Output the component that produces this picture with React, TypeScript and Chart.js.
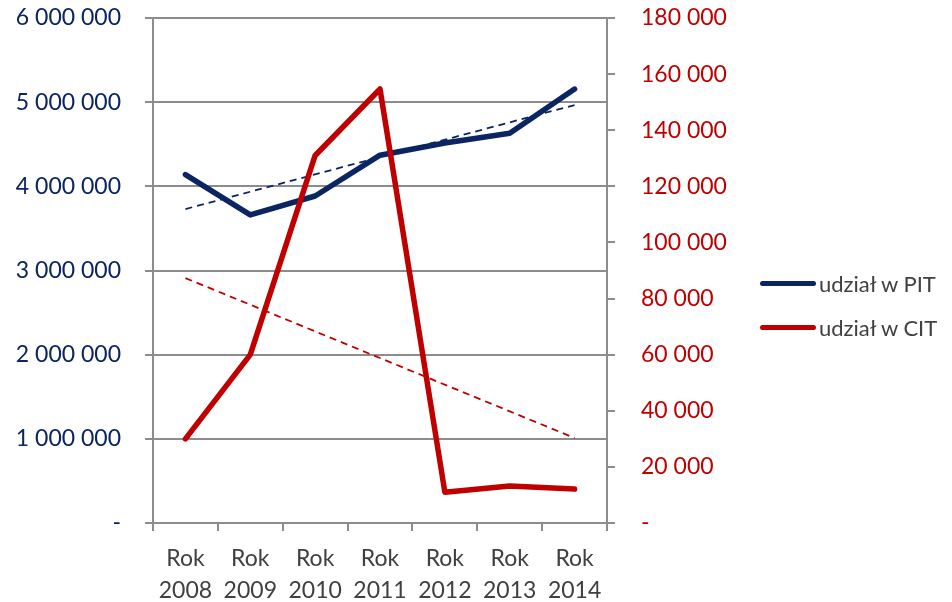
import React, { useEffect, useRef } from "react";
import { Chart, registerables } from "chart.js";

Chart.register(...registerables);

const categories: string[][] = [
  ["Rok", "2008"], ["Rok", "2009"], ["Rok", "2010"], ["Rok", "2011"],
  ["Rok", "2012"], ["Rok", "2013"], ["Rok", "2014"],
];
const pitValues = [4140000, 3660000, 3885000, 4370000, 4515000, 4630000, 5156000];
const citValues = [30000, 60000, 131000, 154700, 11000, 13200, 12100];
const pitTrend = [3730000, null, null, null, null, null, 4966000];
const citTrend = [87300, null, null, null, null, null, 30300];
const seriesLabels = ["udział w PIT", "udział w CIT"];

const NAVY = "#0A2562";
const RED = "#C00000";
const GRID = "#8C8C8C";
const FONT = "Lato, 'Open Sans', sans-serif";

const fmt = (v: number) =>
  v === 0 ? "-" : String(Math.round(v)).replace(/\B(?=(\d{3})+(?!\d))/g, " ");

export default function App() {
  const ref = useRef<HTMLCanvasElement>(null);
  useEffect(() => {
    if (!ref.current) return;
    const chart = new Chart(ref.current, {
      type: "line",
      data: {
        labels: categories,
        datasets: [
          {
            label: seriesLabels[0], data: pitValues, borderColor: NAVY, borderWidth: 5.5,
            pointRadius: 0, yAxisID: "y", order: 2, borderCapStyle: "round", borderJoinStyle: "round",
          },
          {
            label: seriesLabels[1], data: citValues, borderColor: RED, borderWidth: 5.5,
            pointRadius: 0, yAxisID: "y1", order: 1, borderCapStyle: "round", borderJoinStyle: "round",
          },
          {
            label: "trend PIT", data: pitTrend as any, borderColor: NAVY, borderWidth: 1.8,
            borderDash: [7, 5], pointRadius: 0, yAxisID: "y", spanGaps: true, order: 3,
          },
          {
            label: "trend CIT", data: citTrend as any, borderColor: RED, borderWidth: 1.8,
            borderDash: [7, 5], pointRadius: 0, yAxisID: "y1", spanGaps: true, order: 3,
          },
        ],
      },
      options: {
        animation: false,
        responsive: false,
        maintainAspectRatio: false,
        layout: { padding: { top: 18, right: 0, left: 0, bottom: 0 } },
        plugins: { legend: { display: false }, tooltip: { enabled: false } },
        scales: {
          x: {
            offset: true,
            grid: { offset: true, drawOnChartArea: false, color: GRID, lineWidth: 2, tickLength: 8, tickColor: GRID },
            border: { color: GRID, width: 2 },
            ticks: { color: "#404040", font: { family: FONT, size: 23, lineHeight: 1.4 }, padding: 11, maxRotation: 0 },
            afterFit: (s: any) => { s.height = 79; s.paddingLeft = 0; s.paddingRight = 0; },
          },
          y: {
            position: "left", min: 0, max: 6000000,
            grid: { color: GRID, lineWidth: 2, tickLength: 8, tickColor: GRID },
            border: { color: GRID, width: 2 },
            ticks: { stepSize: 1000000, color: NAVY, font: { family: FONT, size: 23 }, padding: 24, callback: (v: any) => fmt(Number(v)) },
            afterFit: (s: any) => { s.width = 153; s.paddingTop = 0; s.paddingBottom = 0; },
          },
          y1: {
            position: "right", min: 0, max: 180000,
            grid: { drawOnChartArea: false, color: GRID, lineWidth: 2, tickLength: 8, tickColor: GRID },
            border: { color: GRID, width: 2 },
            ticks: { stepSize: 20000, color: RED, font: { family: FONT, size: 23 }, padding: 26, callback: (v: any) => fmt(Number(v)) },
            afterFit: (s: any) => { s.width = 952 - 607; s.paddingTop = 0; s.paddingBottom = 0; },
          },
        },
      },
    });
    return () => chart.destroy();
  }, []);

  const legendItem = (label: string, color: string, top: number) => (
    <div style={{ position: "absolute", left: 760, top: top - 15, height: 30, display: "flex", alignItems: "center" }}>
      <div style={{ width: 56, height: 5, borderRadius: 3, background: color, marginRight: 3 }} />
      <span style={{ fontFamily: FONT, fontSize: 22, color: "#404040", whiteSpace: "nowrap" }}>{label}</span>
    </div>
  );

  return (
    <div style={{ position: "fixed", left: 0, top: 0, width: 952, height: 602, background: "#fff" }}>
      <canvas ref={ref} width={952} height={602} style={{ position: "absolute", left: 0, top: 0 }} />
      {legendItem(seriesLabels[0], NAVY, 283)}
      {legendItem(seriesLabels[1], RED, 327)}
    </div>
  );
}
